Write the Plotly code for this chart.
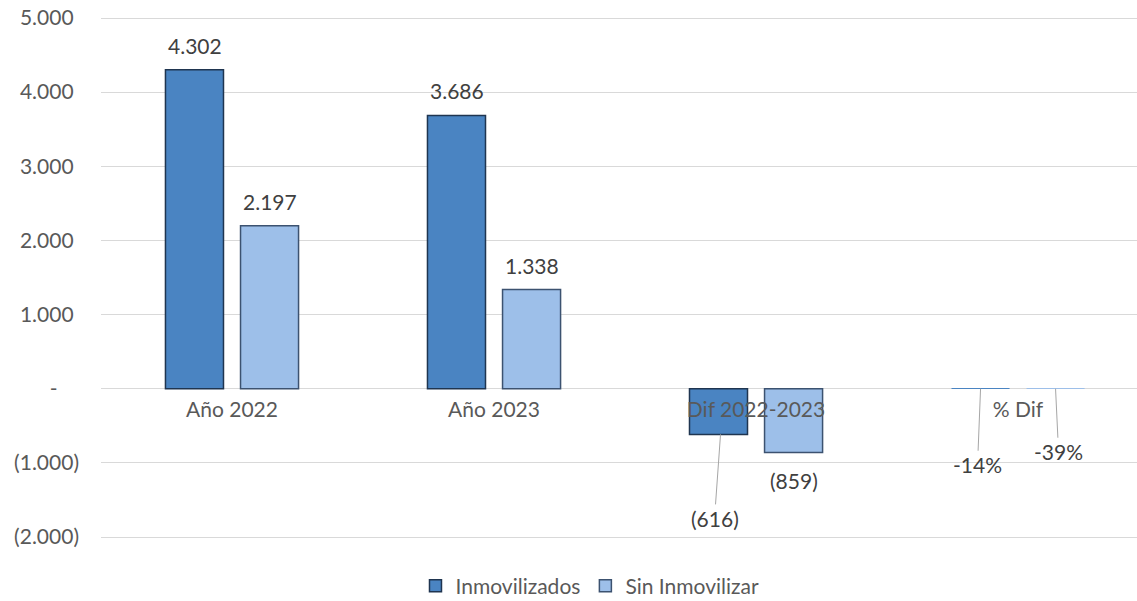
import plotly.graph_objects as go

categories = ["Año 2022", "Año 2023", "Dif 2022-2023", "% Dif"]
inmovilizados = [4302, 3686, -616, -0.14]
sin_inmovilizar = [2197, 1338, -859, -0.39]
label_inmov = ["4.302", "3.686", "(616)", "-14%"]
label_sin = ["2.197", "1.338", "(859)", "-39%"]
y_ticks = [5000, 4000, 3000, 2000, 1000, 0, -1000, -2000]
y_ticktext = ["5.000\u00a0", "4.000\u00a0", "3.000\u00a0", "2.000\u00a0", "1.000\u00a0",
              "-\u00a0\u00a0\u00a0\u00a0", "(1.000)", "(2.000)"]

FONT = "Lato"
TXT = "#595959"
LBL = "#404040"
FS = 21

# hide outline of the (near-zero) percentage bars
line_w = [1.5, 1.5, 1.5, 0]

fig = go.Figure()
fig.add_trace(go.Bar(
    name="Inmovilizados", x=categories, y=inmovilizados,
    marker=dict(color="#4A84C2", line=dict(color="#1F3550", width=line_w)),
))
fig.add_trace(go.Bar(
    name="Sin Inmovilizar", x=categories, y=sin_inmovilizar,
    marker=dict(color="#9DBFE9", line=dict(color="#3C5270", width=line_w)),
))

annotations = []
OFF = 37.5
lf = dict(size=FS, color=LBL, family=FONT)
for i, (cat, v, t) in enumerate(zip(categories, inmovilizados, label_inmov)):
    if i < 2:
        annotations.append(dict(x=cat, y=v, text=t, showarrow=False, xshift=-OFF,
                                yanchor="bottom", yshift=10, font=lf))
for i, (cat, v, t) in enumerate(zip(categories, sin_inmovilizar, label_sin)):
    if i < 2:
        annotations.append(dict(x=cat, y=v, text=t, showarrow=False, xshift=OFF,
                                yanchor="bottom", yshift=10, font=lf))
annotations.append(dict(x=categories[2], y=inmovilizados[2], text=label_inmov[2], xshift=-OFF + 2,
                        showarrow=True, arrowhead=0, arrowwidth=1, arrowcolor="#A6A6A6",
                        ax=-6, ay=84, font=lf))
annotations.append(dict(x=categories[2], y=sin_inmovilizar[2], text=label_sin[2], xshift=OFF,
                        showarrow=False, yanchor="top", yshift=-14, font=lf))
annotations.append(dict(x=categories[3], y=inmovilizados[3], text=label_inmov[3], xshift=-OFF,
                        showarrow=True, arrowhead=0, arrowwidth=1, arrowcolor="#A6A6A6",
                        ax=-3, ay=76, font=lf))
annotations.append(dict(x=categories[3], y=sin_inmovilizar[3], text=label_sin[3], xshift=OFF,
                        showarrow=True, arrowhead=0, arrowwidth=1, arrowcolor="#A6A6A6",
                        ax=3, ay=63, font=lf))

Y0, Y1 = -2027, 5027

fig.update_layout(
    width=1137, height=601,
    margin=dict(l=101, r=0, t=16, b=62, autoexpand=False),
    paper_bgcolor="white", plot_bgcolor="white",
    barmode="group", bargap=0.427, bargroupgap=0.227,
    font=dict(family=FONT, size=FS, color=TXT),
    showlegend=True,
    legend=dict(orientation="h", x=0.472, xanchor="center", y=-0.09, yanchor="middle",
                font=dict(size=21, color=TXT, family=FONT), itemwidth=30,
                traceorder="normal"),
    annotations=annotations,
    xaxis=dict(type="category", range=[-0.5, 3.454], anchor="free",
               position=(-Y0) / (Y1 - Y0),
               showgrid=False, showline=False, ticks="", tickfont=dict(size=FS, color=TXT),
               ticklabelstandoff=6),
    yaxis=dict(range=[Y0, Y1], tickvals=y_ticks, ticktext=y_ticktext,
               showgrid=True, gridcolor="#D9D9D9", gridwidth=1.3,
               zeroline=True, zerolinecolor="#D9D9D9", zerolinewidth=1.3,
               showline=False, ticks="", tickfont=dict(size=FS, color=TXT),
               ticklabelstandoff=21, ticklabeloverflow="allow"),
)

fig.write_html("out.html", config={"displayModeBar": False},
               post_script="document.body.style.margin='0';document.body.style.overflow='hidden';")
